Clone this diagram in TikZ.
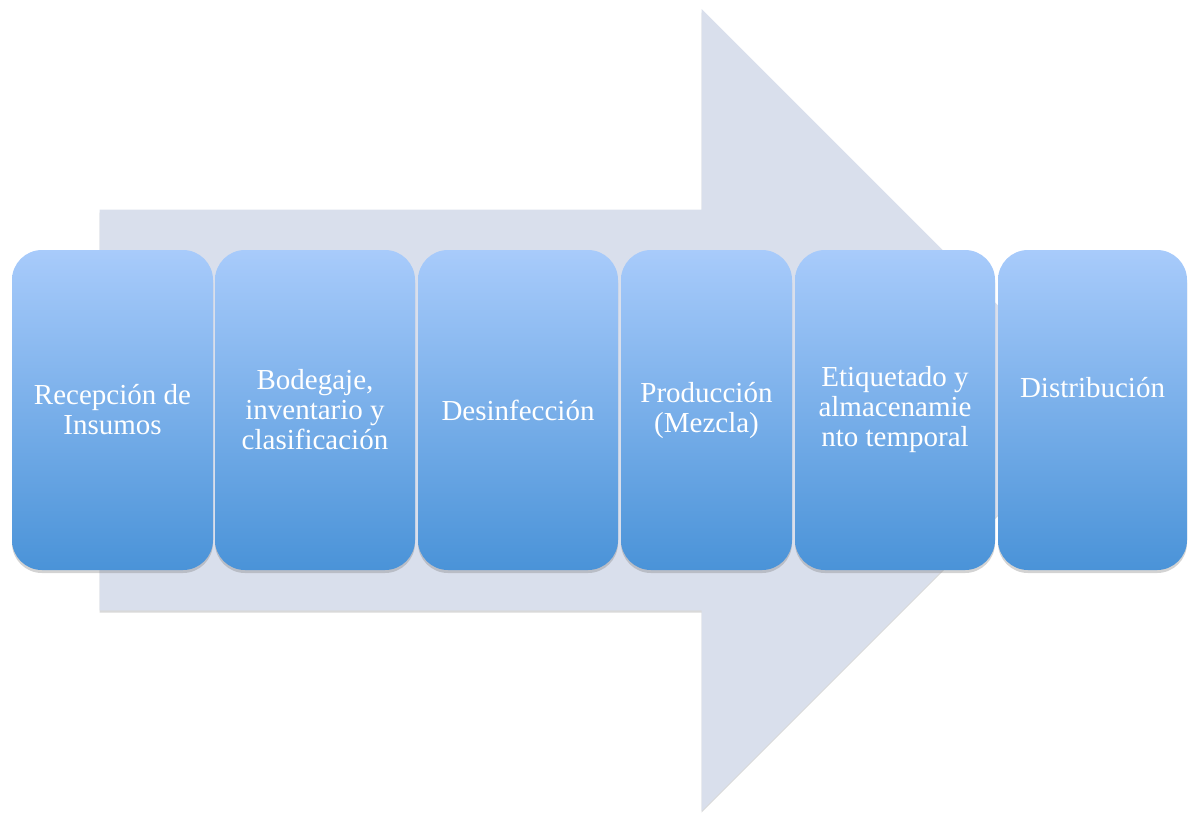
\documentclass[tikz,border=0pt]{standalone}
\usepackage{fontspec}
\setmainfont{Liberation Serif}
\usetikzlibrary{shadows}
\definecolor{arrowfill}{RGB}{217,223,236}
\definecolor{boxtop}{RGB}{168,203,251}
\definecolor{boxbot}{RGB}{74,147,216}
\tikzset{
  bigarrow/.style={fill=arrowfill, draw=arrowfill, line width=0.8pt, drop shadow={opacity=0.3, shadow xshift=-0.5pt, shadow yshift=-2.5pt}},
  stepbox/.style={rounded corners=30pt, top color=boxtop, bottom color=boxbot, draw=none,
    minimum height=320pt, inner sep=0pt, text=white, align=center,
    font=\fontsize{29}{30}\selectfont,
    drop shadow={opacity=0.35, shadow xshift=0pt, shadow yshift=-3pt}},
  boxtext/.style={text=white, align=center, inner sep=0pt, font=\fontsize{29}{30}\selectfont}
}
\begin{document}
\begin{tikzpicture}[x=1pt,y=-1pt]
\useasboundingbox (0,0) rectangle (1188,812);
\path[bigarrow] (100,210) -- (702,210) -- (702,10) -- (1102,410) -- (702,810) -- (702,610) -- (100,610) -- cycle;
\node[stepbox, minimum width=201pt] (b1) at (112.5,410) {Recepción de\\Insumos};
\node[stepbox, minimum width=200pt] (b2) at (315,410) {Bodegaje,\\inventario y\\clasificación};
\node[stepbox, minimum width=200pt] (b3) at (518,410) {Desinfección};
\node[stepbox, minimum width=171pt] (b4) at (706.5,410) {Producción\\(Mezcla)};
\node[stepbox, minimum width=200pt] (b5) at (895,410) {Etiquetado y\\almacenamie\\nto temporal};
\node[stepbox, minimum width=189pt] (b6) at (1092.5,410) {};
\node[boxtext] (t6) at ([yshift=22pt]b6.center) {Distribución};
\end{tikzpicture}
\end{document}
